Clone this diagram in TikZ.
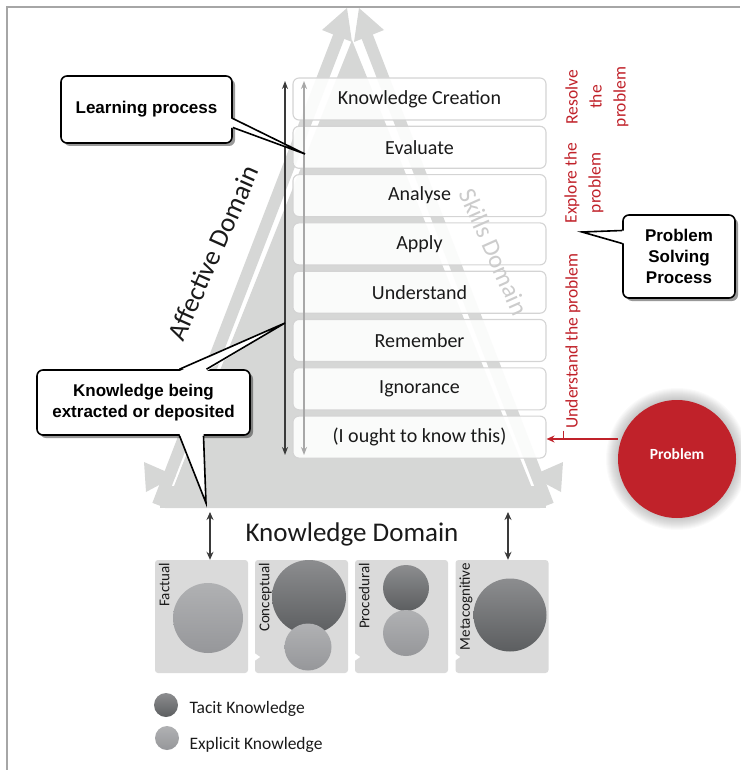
\documentclass[tikz,border=0pt]{standalone}
\usepackage{fontspec}
\setmainfont{Carlito}
\newfontfamily\calloutfont{Liberation Sans}
\usetikzlibrary{arrows.meta,calc,shadows}

\definecolor{bandgray}{HTML}{D6D7D6}
\definecolor{boxline}{HTML}{D4D4D4}
\definecolor{darkarrow}{HTML}{3A3A3A}
\definecolor{lightarrow}{HTML}{A8A8A8}
\definecolor{probred}{HTML}{C0222A}
\definecolor{panelgray}{HTML}{DADADA}
\definecolor{tacittop}{HTML}{8C8D8F}
\definecolor{tacitbot}{HTML}{5C5E60}
\definecolor{expltop}{HTML}{B0B1B3}
\definecolor{explbot}{HTML}{96979A}
\definecolor{textdark}{HTML}{1A1A1A}

\tikzset{
  level/.style={draw=boxline, line width=1.1pt, rounded corners=6pt,
    fill=white, fill opacity=0.9, text opacity=1, text=textdark,
    minimum width=253pt, minimum height=42pt,
    font=\fontsize{20}{24}\selectfont},
  callout/.style={draw=black, line width=1.6pt, rounded corners=6pt, fill=white,
    drop shadow={shadow xshift=3pt, shadow yshift=-3pt, opacity=0.4, fill=black},
    align=center, font=\calloutfont\bfseries\fontsize{17}{21}\selectfont},
  redtext/.style={text=probred, rotate=90, align=center,
    font=\fontsize{17.5}{24}\selectfont},
  vertarrow/.style={line width=1.4pt, {Stealth[length=8pt,width=6pt]}-{Stealth[length=8pt,width=6pt]}},
  panel/.style={fill=panelgray, rounded corners=3pt, minimum width=93pt, minimum height=113pt, inner sep=0pt},
  tacit/.style={circle, top color=tacittop, bottom color=tacitbot, inner sep=0pt},
  explicit/.style={circle, top color=expltop, bottom color=explbot, inner sep=0pt},
  plabel/.style={rotate=90, anchor=north east, inner sep=1pt, text=textdark,
    font=\fontsize{15}{17}\selectfont},
  kdarrow/.style={darkarrow, line width=1.4pt, {Stealth[length=8pt,width=7pt]}-{Stealth[length=8pt,width=7pt]}},
  band/.style={bandgray, line width=12pt},
}

\begin{document}
\begin{tikzpicture}[x=1pt, y=-1pt]
\useasboundingbox (0,0) rectangle (740,770);

% frame lines
\draw[gray!70, line width=1.2pt] (7,770) -- (7,7) -- (740,7);

% ---- background triangle of the three domains ----
\fill[bandgray] (165,508) -- (352,40) -- (540,508) -- cycle;
% outer bands rising to the apex
\draw[white, line width=16pt] (158,505) -- (339,36);
\draw[band] (158,505) -- (339,36);
\fill[bandgray] (347,8) -- (322,30) -- (352,42) -- cycle;
\draw[white, line width=16pt] (548,505) -- (367,36);
\draw[band] (548,505) -- (367,36);
\fill[bandgray] (359,8) -- (384,30) -- (354,42) -- cycle;
% arrowheads at the base corners
\fill[bandgray] (146,492) -- (144,462) -- (176,476) -- cycle;
\fill[bandgray] (561,492) -- (563,462) -- (531,476) -- cycle;
\fill[bandgray] (160,508) rectangle (546,486);

% domain labels
\node[rotate=66, text=textdark, font=\fontsize{27}{30}\selectfont] (aff) at (213,253) {Affective Domain};

% ---- levels ----
\node[level] (b1) at (419.5,99.0) {Knowledge Creation};
\node[level] (b2) at (419.5,147.3) {Evaluate};
\node[level] (b3) at (419.5,195.6) {Analyse};
\node[level] (b4) at (419.5,243.9) {Apply};
\node[level] (b5) at (419.5,292.2) {Understand};
\node[level] (b6) at (419.5,340.5) {Remember};
\node[level] (b7) at (419.5,388.8) {Ignorance};
\node[level] (b8) at (419.5,437.1) {(I ought to know this)};

\node[rotate=-66, text=gray!40, font=\fontsize{25}{28}\selectfont] (skl) at (494,252) {Skills Domain};

% vertical arrows beside the levels
\coordinate (dtop) at (285,81);
\coordinate (dbot) at (285,455);
\coordinate (ltop) at (304,81);
\coordinate (lbot) at (304,455);
\draw[vertarrow, darkarrow] (dtop) -- (dbot);
\draw[vertarrow, lightarrow] (ltop) -- (lbot);

% ---- callouts ----
\node[callout, minimum width=171pt, minimum height=67pt] (lp) at (146.5,109.5) {Learning process};
\coordinate (lptip) at (305,154);
\fill[white] ($(lp.east)+(-2,9)$) -- (lptip) -- ($(lp.east)+(-2,18)$) -- cycle;
\draw[line width=1.6pt] ($(lp.east)+(0,9)$) -- (lptip) -- ($(lp.east)+(0,18)$);

\node[callout, minimum width=213pt, minimum height=65pt] (kb) at (143.5,402.5) {Knowledge being\\extracted or deposited};
\coordinate (kbtip1) at (285,323);
\coordinate (kbtip2) at (206,503);
\fill[white] ($(kb.north)+(36,2)$) -- (kbtip1) -- ($(kb.north)+(63,2)$) -- cycle;
\draw[line width=1.6pt] ($(kb.north)+(36,0)$) -- (kbtip1) -- ($(kb.north)+(63,0)$);
\fill[white] ($(kb.south)+(36,-2)$) -- (kbtip2) -- ($(kb.south)+(60,-2)$) -- cycle;
\draw[line width=1.6pt] ($(kb.south)+(36,0)$) -- (kbtip2) -- ($(kb.south)+(60,0)$);

\node[callout, minimum width=112pt, minimum height=83pt] (psp) at (679,256.5) {Problem\\Solving\\Process};
\coordinate (psptip) at (582,232);
\fill[white] ($(psp.west)+(2,-26)$) -- (psptip) -- ($(psp.west)+(2,-13)$) -- cycle;
\draw[line width=1.6pt] ($(psp.west)+(0,-26)$) -- (psptip) -- ($(psp.west)+(0,-13)$);

% ---- problem solving stages ----
\node[redtext] (res) at (597,97) {Resolve\\the\\problem};
\node[redtext] (exp) at (584,183) {Explore the\\problem};
\node[redtext, inner sep=2pt] (und) at (573,341) {Understand the problem};

% problem circle with soft glow
\foreach \r in {12,11,...,1}
  \fill[black, opacity=0.02] (677,459) circle ({59+\r});
\node[circle, fill=probred, minimum size=118pt, inner sep=0pt] (prob) at (677,459) {};
\node[text=white, font=\bfseries\fontsize{15.5}{18}\selectfont] (probtxt) at (677,454) {Problem};
\draw[probred, line width=1.3pt, -{Stealth[length=8pt,width=7pt]}] (prob.west |- 0,439) -- (b8.east |- 0,439);
\draw[probred, line width=1.3pt] (und.north west) -- (und.north west |- 0,440);

% ---- knowledge domain ----
\node[text=textdark, font=\fontsize{27}{30}\selectfont] (kd) at (352,534) {Knowledge Domain};

\node[panel] (p1) at (201.5,616.5) {};
\node[panel] (p2) at (301.5,616.5) {};
\node[panel] (p3) at (401.5,616.5) {};
\node[panel] (p4) at (502,616.5) {};

\foreach \a/\b in {p1/p2, p2/p3, p3/p4}
  \fill[white] ($(\a.east)+(1,33)$) -- ($(\a.east)+(1,48)$) -- ($(\a.east)+(12,40.5)$) -- cycle;

\node[explicit, minimum size=70pt] (f1) at (208,618) {};
\node[tacit, minimum size=74pt] (c1) at (309,597) {};
\node[explicit, minimum size=47pt] (c2) at (308,647) {};
\node[tacit, minimum size=46pt] (r1) at (406,588) {};
\node[explicit, minimum size=46pt] (r2) at (406,633) {};
\node[tacit, minimum size=73pt] (m1) at (510,615) {};

\node[plabel] at ($(p1.north west)+(3,2)$) {Factual};
\node[plabel] at ($(p2.north west)+(3,2)$) {Conceptual};
\node[plabel] at ($(p3.north west)+(3,2)$) {Procedural};
\node[plabel] at ($(p4.north west)+(3,2)$) {Metacognitive};

\coordinate (kdl) at (210,512);
\coordinate (kdr) at (508,512);
\draw[kdarrow] (kdl) -- (kdl |- p1.north);
\draw[kdarrow] (kdr) -- (kdr |- p4.north);

% ---- legend ----
\node[tacit, minimum size=24pt] (lt) at (166,705) {};
\node[explicit, minimum size=24pt] (le) at (167,738) {};
\node[anchor=west, text=textdark, font=\fontsize{17.5}{20}\selectfont] (ltt) at (186,709) {Tacit Knowledge};
\node[anchor=west, text=textdark, font=\fontsize{17.5}{20}\selectfont] (let) at (186,745) {Explicit Knowledge};
\end{tikzpicture}
\end{document}
